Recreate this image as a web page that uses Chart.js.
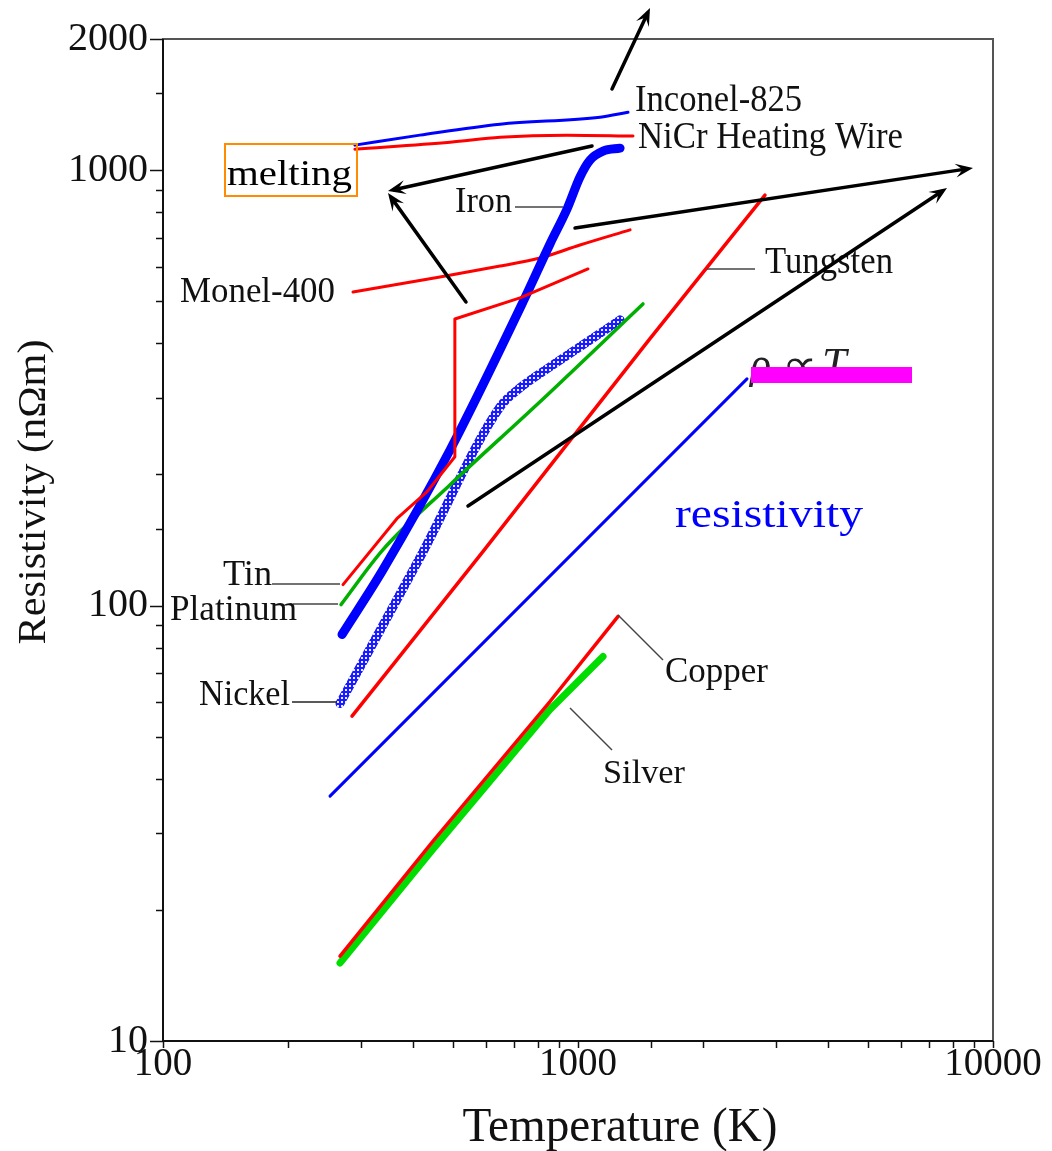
<!DOCTYPE html>
<html>
<head>
<meta charset="utf-8">
<script src="https://cdn.jsdelivr.net/npm/chart.js@4.4.0/dist/chart.umd.min.js"></script>
<style>
  html, body { margin: 0; padding: 0; background: #fff; }
  #chart { display: block; }
</style>
</head>
<body>
<canvas id="chart" width="1052" height="1151"></canvas>
<script>
// values: temperature (K) and resistivity (nOhm m)
const inconelT   = [290, 416, 649, 1130, 1320]
const inconelRho = [1141, 1203, 1275, 1323, 1358]

const nicrT   = [290, 492, 649, 941, 1357]
const nicrRho = [1117, 1159, 1190, 1203, 1197]

const ironT   = [270, 339, 492, 737, 856, 941, 1011, 1069, 1149, 1263]
const ironRho = [85.8, 120.9, 227.9, 498, 676.6, 814, 964, 1054, 1105, 1123]

const monelT   = [287, 465, 649, 810, 1011, 1335]
const monelRho = [525, 568, 602, 628, 673, 729]

const tinT   = [271.5, 366, 433, 505, 505, 725, 1057]
const tinRho = [111.7, 158.3, 182.6, 219.6, 455, 508.6, 592.9]

const platinumT   = [268.5, 339, 492, 810, 1434]
const platinumRho = [100.5, 134.4, 189.5, 293.8, 492.7]

const nickelT   = [267, 416, 649, 725, 856, 1011, 1263]
const nickelRho = [59.6, 128.8, 286, 316.2, 353.3, 392.7, 452.9]

const tungstenT   = [285.4, 590, 1491, 2822]
const tungstenRho = [55.7, 133, 410, 876.3]

const linearT   = [252.6, 2554]
const linearRho = [36.5, 331.6]

const copperT   = [267, 447, 856, 1249]
const copperRho = [15.67, 28.75, 60.2, 94.4]

const silverT   = [267, 447, 856, 1149]
const silverRho = [15.1, 27.56, 57.7, 76.4]

const xTickLabels = [100, 1000, 10000]
const yTickLabels = [10, 100, 1000, 2000]

const SERIF = '"Liberation Serif", "Times New Roman", serif'

function pts(xs, ys) {
    return xs.map((x, i) => ({ x: x, y: ys[i] }))
}

// nickel is drawn with a checkered blue fill
function nickelPattern() {
    const c = document.createElement('canvas')
    c.width = 4; c.height = 4
    const g = c.getContext('2d')
    g.fillStyle = '#1a1aff'
    g.fillRect(0, 0, 4, 4)
    g.fillStyle = '#e8e8ff'
    g.fillRect(1, 1, 2, 2)
    return g.createPattern(c, 'repeat')
}

const line = (label, data, color, width, smooth) => ({
    label: label,
    data: data,
    showLine: true,
    borderColor: color,
    borderWidth: width,
    pointRadius: 0,
    fill: false,
    tension: smooth ? 0.4 : 0,
    cubicInterpolationMode: smooth ? 'monotone' : 'default',
    borderCapStyle: 'round',
    borderJoinStyle: 'round'
})

const datasets = [
    line('rho ~ T', pts(linearT, linearRho), '#0000ff', 3, false),
    line('Tungsten', pts(tungstenT, tungstenRho), '#ff0000', 3.5, true),
    line('Inconel-825', pts(inconelT, inconelRho), '#0000ff', 3, true),
    line('NiCr Heating Wire', pts(nicrT, nicrRho), '#ff0000', 3, true),
    line('Monel-400', pts(monelT, monelRho), '#ff0000', 3, true),
    line('Nickel', pts(nickelT, nickelRho), nickelPattern(), 9, true),
    line('Platinum', pts(platinumT, platinumRho), '#00b000', 3.5, true),
    line('Iron', pts(ironT, ironRho), '#0000ff', 9, true),
    line('Tin', pts(tinT, tinRho), '#ff0000', 3, false),
    line('Silver', pts(silverT, silverRho), '#00dd00', 7, false),
    line('Copper', pts(copperT, copperRho), '#ff0000', 3.5, false)
]
// last in the list ends up on top
datasets.forEach((d, i) => { d.order = datasets.length - i })

function isLabelled(list, v) {
    return list.some(t => Math.abs(t - v) < t * 1e-6)
}

// text squeezed/stretched horizontally to the width it has in the picture
function fitText(ctx, str, x, y, size, width, opts) {
    opts = opts || {}
    ctx.save()
    ctx.font = (opts.italic ? 'italic ' : '') + size + 'px ' + SERIF
    const w = ctx.measureText(str).width
    const sx = width ? width / w : 1
    ctx.translate(x, y)
    if (opts.rotate) ctx.rotate(opts.rotate)
    ctx.scale(sx, 1)
    ctx.textAlign = opts.align || 'left'
    ctx.textBaseline = 'alphabetic'
    ctx.fillStyle = opts.color || '#111'
    ctx.fillText(str, 0, 0)
    ctx.restore()
}

function seg(ctx, x1, y1, x2, y2) {
    ctx.beginPath()
    ctx.moveTo(x1, y1)
    ctx.lineTo(x2, y2)
    ctx.stroke()
}

function arrow(ctx, x1, y1, x2, y2) {
    ctx.save()
    ctx.strokeStyle = '#000'
    ctx.fillStyle = '#000'
    ctx.lineWidth = 3.5
    ctx.lineCap = 'round'
    const a = Math.atan2(y2 - y1, x2 - x1)
    const L = 19, w = 0.38
    seg(ctx, x1, y1, x2 - 6 * Math.cos(a), y2 - 6 * Math.sin(a))
    ctx.beginPath()
    ctx.moveTo(x2, y2)
    ctx.lineTo(x2 - L * Math.cos(a - w), y2 - L * Math.sin(a - w))
    ctx.lineTo(x2 - L * 0.55 * Math.cos(a), y2 - L * 0.55 * Math.sin(a))
    ctx.lineTo(x2 - L * Math.cos(a + w), y2 - L * Math.sin(a + w))
    ctx.closePath()
    ctx.fill()
    ctx.restore()
}

const framePlugin = {
    id: 'frame',
    beforeDatasetsDraw(chart) {
        const { ctx, chartArea: a, scales } = chart
        ctx.save()
        ctx.strokeStyle = '#555'
        ctx.lineWidth = 2
        ctx.strokeRect(a.left, a.top, a.right - a.left, a.bottom - a.top)
        ctx.strokeStyle = '#111'
        seg(ctx, a.left, a.top, a.left, a.bottom + 1)
        seg(ctx, a.left - 1, a.bottom, a.right, a.bottom)

        // tick marks, outside the frame
        ctx.lineWidth = 1.5
        scales.y.ticks.forEach(t => {
            const y = Math.round(scales.y.getPixelForValue(t.value)) + 0.5
            const len = isLabelled(yTickLabels, t.value) ? 13 : 7
            seg(ctx, a.left, y, a.left - len, y)
        })
        scales.x.ticks.forEach(t => {
            const x = Math.round(scales.x.getPixelForValue(t.value)) + 0.5
            seg(ctx, x, a.bottom, x, a.bottom + 7)
        })
        ctx.restore()
    }
}

const notesPlugin = {
    id: 'notes',
    afterDatasetsDraw(chart) {
        const ctx = chart.ctx
        ctx.save()

        // leader lines from labels to curves
        ctx.strokeStyle = '#444'
        ctx.lineWidth = 1.5
        seg(ctx, 515, 207, 563, 207)   // Iron
        seg(ctx, 707, 269, 755, 269)   // Tungsten
        seg(ctx, 272, 584, 340, 584)   // Tin
        seg(ctx, 293, 604, 338, 604)   // Platinum
        ctx.strokeStyle = '#222'
        seg(ctx, 292, 702, 337, 702)   // Nickel
        ctx.strokeStyle = '#444'
        seg(ctx, 618, 615, 663, 660)   // Copper
        seg(ctx, 570, 708, 612, 750)   // Silver

        fitText(ctx, 'Inconel-825', 635, 111, 37, 167)
        fitText(ctx, 'NiCr Heating Wire', 638, 148, 37, 265)
        fitText(ctx, 'Iron', 455, 212, 36, 57)
        fitText(ctx, 'Tungsten', 765, 273, 37, 128)
        fitText(ctx, 'Monel-400', 180, 302, 36, 155)
        fitText(ctx, 'Tin', 223, 585, 35, 49)
        fitText(ctx, 'Platinum', 170, 620, 35, 127)
        fitText(ctx, 'Nickel', 199, 705, 35, 91)
        fitText(ctx, 'Copper', 665, 682, 36, 103)
        fitText(ctx, 'Silver', 603, 783, 34, 82)

        // melting box
        ctx.strokeStyle = '#ff8c00'
        ctx.lineWidth = 2
        ctx.strokeRect(225, 144, 132, 52)
        fitText(ctx, 'melting', 227, 185, 36, 125, { color: '#000' })

        // rho ~ T note, mostly hidden under a magenta bar
        fitText(ctx, 'ρ', 750, 378, 44, 0, { italic: true, color: '#222' })
        fitText(ctx, '∝', 782, 378, 40, 36, { color: '#222' })
        fitText(ctx, 'T', 822, 378, 44, 0, { italic: true, color: '#222' })
        ctx.fillStyle = '#ff00ff'
        ctx.fillRect(751, 367, 161, 16)

        fitText(ctx, 'resistivity', 675, 527, 40, 188, { color: '#0000ff' })

        arrow(ctx, 612, 89, 650, 8)
        arrow(ctx, 592, 146, 388, 191)
        arrow(ctx, 466, 302, 388, 193)
        arrow(ctx, 575, 228, 973, 168)
        arrow(ctx, 468, 506, 947, 188)

        // axis titles
        fitText(ctx, 'Temperature (K)', 620, 1141, 48, 315, { align: 'center' })
        fitText(ctx, 'Resistivity (nΩm)', 45, 492, 41, 305, { align: 'center', rotate: -Math.PI / 2 })

        ctx.restore()
    }
}

new Chart(document.getElementById('chart'), {
    type: 'scatter',
    data: { datasets: datasets },
    options: {
        responsive: false,
        animation: false,
        layout: { padding: { left: 0, right: 59, top: 36, bottom: 0 } },
        plugins: {
            legend: { display: false },
            tooltip: { enabled: false },
            title: { display: false }
        },
        scales: {
            x: {
                type: 'logarithmic',
                min: 100,
                max: 10000,
                grid: { display: false, drawTicks: false },
                border: { display: false },
                ticks: {
                    autoSkip: false,
                    maxRotation: 0,
                    minRotation: 0,
                    padding: 0,
                    color: '#111',
                    font: { family: SERIF, size: 39 },
                    callback: v => isLabelled(xTickLabels, v) ? String(Math.round(v)) : ''
                },
                afterFit: s => { s.height = 110 }
            },
            y: {
                type: 'logarithmic',
                min: 10,
                max: 2000,
                grid: { display: false, drawTicks: false },
                border: { display: false },
                ticks: {
                    autoSkip: false,
                    padding: 15,
                    color: '#111',
                    font: { family: SERIF, size: 40 },
                    callback: v => isLabelled(yTickLabels, v) ? String(Math.round(v)) : ''
                },
                afterFit: s => { s.width = 163 }
            }
        }
    },
    plugins: [framePlugin, notesPlugin]
})
</script>
</body>
</html>
